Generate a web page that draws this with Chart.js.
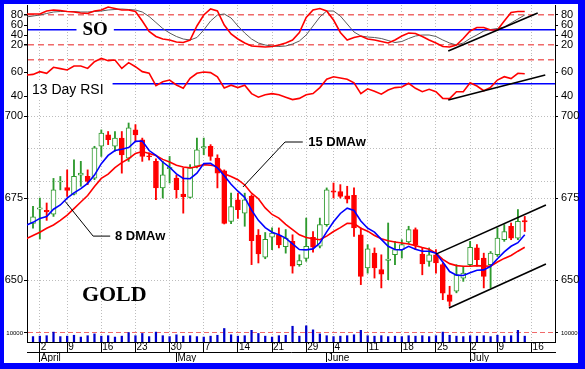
<!DOCTYPE html>
<html>
<head>
<meta charset="utf-8">
<title>Gold</title>
<script src="https://cdn.jsdelivr.net/npm/chart.js@4.4.1/dist/chart.umd.min.js"></script>
<style>
  html, body { margin: 0; padding: 0; background: #0000ff; }
  #frame { position: relative; width: 585px; height: 369px; background: #0000ff; overflow: hidden; }
  #paper { position: absolute; left: 4px; top: 4px; width: 574px; height: 359px; background: #fff; }
  #frame canvas { position: absolute; left: 0; }
</style>
</head>
<body>
<div id="frame">
  <div id="paper"></div>
  <canvas id="soChart" width="585" height="55" style="top:0px"></canvas>
  <canvas id="rsiChart" width="585" height="48" style="top:55px"></canvas>
  <canvas id="priceChart" width="585" height="219" style="top:103px"></canvas>
  <canvas id="volChart" width="585" height="41" style="top:322px"></canvas>
</div>
<script>
// trading days (index 0 = 03-29, first visible candle is 03-30)
const dates = [
  '03-29', '03-30',
  '04-02', '04-03', '04-04', '04-05',
  '04-09', '04-10', '04-11', '04-12', '04-13',
  '04-16', '04-17', '04-18', '04-19', '04-20',
  '04-23', '04-24', '04-25', '04-26', '04-27',
  '04-30', '05-01', '05-02', '05-03', '05-04',
  '05-07', '05-08', '05-09', '05-10', '05-11',
  '05-14', '05-15', '05-16', '05-17', '05-18',
  '05-21', '05-22', '05-23', '05-24', '05-25',
  '05-29', '05-30', '05-31', '06-01',
  '06-04', '06-05', '06-06', '06-07', '06-08',
  '06-11', '06-12', '06-13', '06-14', '06-15',
  '06-18', '06-19', '06-20', '06-21', '06-22',
  '06-25', '06-26', '06-27', '06-28', '06-29',
  '07-02', '07-03', '07-05', '07-06',
  '07-09', '07-10', '07-11', '07-12', '07-13'
];
const futureDates = ['07-16', '07-17', '07-18', '07-19'];

const open = [null, 667.3, 671.6, 671.3, 670.1, 679.9, 678.2, 676.2, 682.0, 681.6, 681.1, 690.8, 694.3, 690.8, 693.3, 687.2, 695.8, 692.8, 687.9, 686.2, 678.1, 684.0, 681.1, 676.2, 675.2, 684.7, 690.3, 690.8, 687.2, 683.3, 667.9, 674.5, 670.4, 675.5, 663.7, 657.0, 663.1, 663.7, 660.2, 661.8, 654.7, 656.6, 663.0, 660.3, 666.9, 677.2, 677.0, 675.7, 675.8, 663.8, 653.7, 658.2, 653.2, 656.0, 657.7, 659.3, 661.6, 665.4, 657.9, 655.7, 657.7, 654.7, 645.5, 646.6, 650.6, 654.7, 659.8, 656.7, 654.7, 657.7, 662.3, 666.4, 662.8, 668.1];
const high = [null, 672.5, 675.0, 673.5, 681.0, 681.6, 683.6, 686.7, 686.2, 683.6, 690.8, 695.8, 695.3, 695.3, 695.3, 697.9, 697.4, 693.3, 688.8, 687.0, 686.2, 687.7, 682.0, 684.2, 685.2, 693.3, 693.3, 691.3, 688.2, 683.6, 676.5, 676.5, 676.5, 676.0, 665.4, 664.5, 665.9, 665.9, 665.4, 663.8, 657.7, 668.9, 664.8, 668.9, 678.1, 679.6, 679.1, 678.6, 678.1, 665.9, 660.8, 659.8, 657.7, 667.4, 661.8, 662.3, 666.4, 665.9, 659.8, 659.8, 659.3, 655.2, 648.1, 654.7, 654.2, 661.8, 660.8, 658.2, 658.7, 665.9, 666.9, 667.4, 671.5, 669.4];
const low = [null, 665.8, 662.5, 668.2, 669.4, 677.5, 675.5, 676.0, 678.6, 679.1, 680.6, 687.7, 691.3, 689.3, 682.6, 686.2, 692.3, 686.2, 686.6, 674.5, 675.0, 679.6, 675.0, 670.4, 675.0, 684.2, 688.2, 686.5, 678.1, 667.1, 667.2, 668.8, 666.4, 654.7, 655.2, 656.5, 659.3, 659.8, 658.2, 652.1, 654.2, 655.7, 658.5, 659.8, 666.4, 675.0, 675.0, 673.5, 663.3, 648.6, 652.1, 650.6, 647.6, 650.1, 654.7, 656.7, 661.1, 659.3, 651.6, 654.2, 652.1, 644.0, 642.0, 646.1, 649.6, 654.2, 654.2, 647.6, 647.6, 657.2, 661.8, 662.3, 662.3, 664.8];
const close = [null, 669.3, 672.0, 670.8, 677.5, 680.2, 677.3, 681.6, 682.6, 680.1, 690.3, 694.8, 692.8, 693.3, 688.2, 696.4, 694.3, 687.7, 687.6, 678.1, 682.1, 684.4, 677.6, 675.4, 684.2, 689.7, 690.7, 687.7, 682.6, 667.3, 672.4, 671.5, 674.5, 662.0, 658.0, 662.4, 664.3, 660.7, 662.8, 654.2, 655.9, 660.3, 660.0, 666.9, 677.5, 676.8, 675.5, 674.7, 665.9, 651.1, 659.5, 653.7, 651.8, 656.4, 659.3, 660.8, 665.4, 660.8, 654.9, 657.7, 655.2, 646.0, 643.5, 651.6, 652.1, 660.0, 656.2, 651.1, 658.2, 662.8, 664.8, 662.8, 667.9, 667.7];

const ma8 = [666.7, 667.6, 668.8, 669.4, 671.6, 672.9, 675.0, 676.6, 677.9, 679.5, 682.0, 685.5, 688.0, 689.5, 689.9, 690.4, 692.3, 692.4, 689.5, 688.0, 686.0, 684.4, 682.4, 681.0, 680.9, 682.6, 685.5, 685.6, 684.2, 681.8, 679.2, 677.1, 675.2, 671.3, 668.2, 666.0, 664.6, 663.8, 662.8, 661.0, 659.3, 659.2, 659.5, 661.3, 664.7, 667.8, 670.3, 671.9, 671.2, 668.0, 665.8, 664.6, 662.4, 660.3, 659.3, 659.2, 660.3, 659.4, 658.8, 658.8, 658.2, 655.5, 652.6, 651.5, 651.4, 652.2, 653.0, 653.1, 654.2, 656.5, 658.6, 660.3, 661.4, 663.8];
const ma15 = [662.6, 663.6, 664.6, 665.8, 666.8, 668.2, 669.8, 671.8, 673.8, 675.8, 678.5, 681.0, 682.3, 684.3, 685.8, 687.0, 688.6, 689.2, 688.6, 688.0, 686.8, 686.0, 685.0, 684.5, 684.2, 684.6, 685.2, 685.0, 684.7, 682.4, 681.6, 680.6, 679.0, 676.5, 674.8, 672.0, 670.0, 668.9, 667.0, 665.4, 663.8, 663.0, 662.6, 662.3, 663.4, 664.8, 666.0, 667.3, 667.2, 665.8, 664.9, 663.6, 662.6, 662.0, 661.6, 661.3, 661.0, 660.5, 659.9, 659.4, 658.2, 656.3, 655.0, 654.4, 654.2, 654.2, 654.4, 654.3, 654.2, 655.5, 656.6, 657.5, 658.8, 660.0];

const soK = [82, 82, 82, 88, 90, 89, 87, 86, 84, 83, 88, 90, 96, 93, 90, 90, 87, 68, 47, 37, 32, 30, 26, 25, 30, 58, 80, 92, 88, 60, 42, 32, 24, 18, 17, 16, 17, 20, 24, 30, 45, 75, 90, 93, 88, 70, 45, 30, 35, 38, 32, 30, 27, 24, 30, 38, 44, 43, 37, 30, 24, 17, 16, 20, 33, 48, 55, 55, 50, 50, 68, 85, 87, 87];
const soD = [76, 78, 80, 83, 86, 87, 87, 87, 86, 86, 87, 88, 90, 91, 92, 91, 90, 86, 77, 65, 53, 44, 37, 32, 30, 35, 50, 68, 80, 82, 74, 58, 44, 32, 24, 20, 18, 17, 18, 22, 28, 40, 58, 76, 88, 88, 78, 62, 46, 38, 36, 35, 33, 29, 25, 27, 33, 38, 40, 40, 37, 30, 24, 20, 24, 33, 40, 48, 51, 53, 56, 64, 72, 80];
const rsi13 = [57.5, 58, 60.3, 58.9, 63.9, 62.8, 61.7, 65, 65, 63, 68.6, 71.4, 69.4, 70, 63, 67.8, 64.4, 60.3, 59, 48.6, 51.9, 53.3, 49.2, 46.4, 54.7, 58.9, 60, 59.5, 56, 46.7, 49, 47, 49, 42, 39, 41, 42, 41, 39, 37, 38, 41, 42, 47, 54, 56, 55, 54, 51, 42, 46, 44, 41.5, 45, 47, 47.5, 50.6, 46.4, 43.6, 45.6, 43.6, 38, 37.8, 43.6, 43.6, 51.1, 48.3, 44.4, 47.2, 53.3, 56.1, 54.5, 58.9, 58.6];
const volume = [null, 6000, 6500, 7000, 11000, 6000, 6500, 7500, 5500, 7000, 9000, 6500, 7000, 5500, 6500, 10500, 7000, 9500, 6000, 11000, 7000, 6000, 8000, 6500, 7000, 6000, 5500, 6500, 7500, 15000, 8000, 6500, 7000, 13000, 9500, 6500, 5500, 7000, 7500, 17500, 6500, 18000, 13500, 9000, 7000, 6000, 6500, 7000, 8000, 13000, 7000, 6500, 7000, 6000, 6500, 6000, 7000, 6500, 7000, 6000, 7000, 11000, 7500, 6500, 6000, 7000, 6500, 7000, 6000, 7500, 6500, 7000, 13000, 6500];

const dayTicks = [['04-02', '2'], ['04-09', '9'], ['04-16', '16'], ['04-23', '23'], ['04-30', '30'], ['05-07', '7'], ['05-14', '14'], ['05-21', '21'], ['05-29', '29'], ['06-04', '4'], ['06-11', '11'], ['06-18', '18'], ['06-25', '25'], ['07-02', '2'], ['07-09', '9'], ['07-16', '16']];
const monthTicks = [['04-02', 'April'], ['05-01', 'May'], ['06-01', 'June'], ['07-02', 'July']];

const soTickVals = [20, 40, 50, 60, 80];
const soLabels = [20, 40, 60, 80];
const rsiTickVals = [40, 50, 60, 70];
const rsiLabels = [40, 60];
const priceTickVals = [650, 675, 680, 690, 700];
const priceLabels = [650, 675, 700];
const volLabels = [10000];

// hand-drawn lines, [day position, value]
const soTrend = [[61.8, 8], [74.9, 84]];
const rsiTrend = [[61.8, 36.7], [76.0, 57.5]];
const channelTop = [[60.0, 657.9], [76.1, 672.9]];
const channelBottom = [[61.9, 641.5], [76.1, 654.9]];
const leader15 = [[31.75, 678.4], [37.9, 692.1], [40.5, 692.1]];
const leader8 = [[5.7, 674.0], [9.8, 663.4], [12.3, 663.4]];

const FONT = '"Liberation Sans", Arial, sans-serif';
const GREEN = '#2e9a2e';
const RED = '#ff0000';
const BLUE = '#0000ff';
const PINK = '#f06a6a';
const GRID = '#bdbdbd';

const allDates = dates.concat(futureDates);
const dayPos = d => allDates.indexOf(d);
const xMin = 0.12, xMax = 77.43;

function zeroPad(s) {
  s.paddingTop = 0; s.paddingBottom = 0; s.paddingLeft = 0; s.paddingRight = 0;
}

function gridX() {
  return {
    type: 'linear', min: xMin, max: xMax, offset: false,
    afterBuildTicks: s => { s.ticks = dayTicks.map(t => ({value: dayPos(t[0])})); },
    afterFit: s => { s.height = 0; zeroPad(s); },
    ticks: {display: false, autoSkip: false},
    grid: {color: GRID, drawTicks: false, offset: false},
    border: {display: false, dash: [1, 2]}
  };
}

function valueAxis(side, min, max, tickVals, labels, lineStyle, fontSize) {
  const left = side === 'left';
  const st = c => (c.tick && lineStyle) ? lineStyle(c.tick.value) : null;
  return {
    type: 'linear', position: side, min, max,
    afterBuildTicks: s => { s.ticks = tickVals.map(v => ({value: v})); },
    afterFit: s => { s.width = left ? 27 : 30; zeroPad(s); },
    ticks: {
      autoSkip: false, padding: left ? 1 : 3, color: '#000',
      font: {family: FONT, size: fontSize || 11},
      callback: v => labels.includes(v) ? String(v) : ''
    },
    grid: {
      drawOnChartArea: left,
      color: c => { const s = st(c); return s ? s.color : 'rgba(0,0,0,0)'; },
      lineWidth: c => { const s = st(c); return s ? s.width : 1; },
      tickLength: 3,
      tickColor: c => c.tick && labels.includes(c.tick.value) ? '#000' : 'rgba(0,0,0,0)'
    },
    border: {color: '#000', dash: c => { const s = st(c); return s ? s.dash : []; }}
  };
}

function base(padding) {
  return {
    responsive: false, animation: false, devicePixelRatio: 1, events: [],
    layout: {padding},
    plugins: {legend: {display: false}, tooltip: {enabled: false}}
  };
}

const pts = arr => arr.map((v, i) => ({x: i, y: v}));
const seg = arr => arr.map(p => ({x: p[0], y: p[1]}));
function lineDs(data, color, width, order) {
  return {type: 'line', data, borderColor: color, borderWidth: width, pointRadius: 0,
    tension: 0, fill: false, order: order};
}

// text drawn on top of the datasets, placed in data coordinates
function textLayer(items) {
  return {
    id: 'textLayer',
    afterDatasetsDraw(chart) {
      const {ctx, chartArea, scales: {x, y}} = chart;
      ctx.save();
      items.forEach(t => {
        ctx.font = t.font;
        const px = x.getPixelForValue(t.at[0]);
        const py = y.getPixelForValue(t.at[1]);
        const w = ctx.measureText(t.text).width;
        const left = t.align === 'center' ? px - w / 2 : px;
        if (t.box) {
          const bx = t.box === 'axis' ? chartArea.left + 1 : left - 6;
          ctx.fillStyle = '#fff';
          ctx.fillRect(bx, py - 9, left + w + (t.box === 'axis' ? 9 : 6) - bx, 18);
        }
        ctx.fillStyle = '#000';
        ctx.textAlign = 'left';
        ctx.textBaseline = 'middle';
        ctx.fillText(t.text, left, py);
      });
      ctx.restore();
    }
  };
}

// ---- stochastic oscillator ----
const soStyle = v => v === 50 ? {color: BLUE, width: 1.5, dash: []}
  : (v === 20 || v === 80) ? {color: PINK, width: 1.5, dash: [6, 4]} : null;
new Chart(document.getElementById('soChart'), {
  type: 'line',
  data: {datasets: [
    lineDs(pts(soD), '#5a5a5a', 1, 2),
    lineDs(pts(soK), RED, 1.6, 1),
    lineDs(seg(soTrend), '#000', 1.6, 0)
  ]},
  options: Object.assign(base({top: 5}), {scales: {
    x: gridX(),
    y: valueAxis('left', 0, 100, soTickVals, soLabels, soStyle),
    yr: valueAxis('right', 0, 100, soTickVals, soLabels, null)
  }}),
  plugins: [textLayer([{text: 'SO', at: [10.1, 50], align: 'center', box: 'around',
    font: 'bold 19px "Liberation Serif", serif'}])]
});

// ---- RSI ----
const rsiStyle = v => v === 50 ? {color: BLUE, width: 1.5, dash: []}
  : v === 70 ? {color: PINK, width: 1.5, dash: [6, 4]} : null;
new Chart(document.getElementById('rsiChart'), {
  type: 'line',
  data: {datasets: [
    lineDs(pts(rsi13), RED, 1.6, 1),
    lineDs(seg(rsiTrend), '#000', 1.6, 0)
  ]},
  options: Object.assign(base(0), {scales: {
    x: gridX(),
    y: valueAxis('left', 34.17, 74.17, rsiTickVals, rsiLabels, rsiStyle),
    yr: valueAxis('right', 34.17, 74.17, rsiTickVals, rsiLabels, null)
  }}),
  plugins: [textLayer([{text: '13 Day RSI', at: [0.85, 45], align: 'left', box: 'axis',
    font: '14px "Liberation Sans", Arial, sans-serif'}])]
});

// ---- price candles ----
const candleDays = dates.map((d, i) => i).filter(i => open[i] !== null);
const up = i => close[i] >= open[i];
const priceStyle = () => ({color: GRID, width: 1, dash: [1, 2]});
new Chart(document.getElementById('priceChart'), {
  type: 'line',
  data: {datasets: [
    {type: 'bar', order: 5, grouped: false, barThickness: 1.2, borderWidth: 0,
      data: candleDays.map(i => ({x: i, y: [low[i], high[i]]})),
      backgroundColor: candleDays.map(i => up(i) ? GREEN : RED)},
    {type: 'bar', order: 4, grouped: false, barThickness: 5, borderWidth: 1, borderSkipped: false,
      data: candleDays.map(i => ({x: i, y: [open[i], close[i]]})),
      backgroundColor: candleDays.map(i => up(i) ? '#ffffff' : RED),
      borderColor: candleDays.map(i => up(i) ? GREEN : RED)},
    lineDs(pts(ma15), RED, 1.6, 3),
    lineDs(pts(ma8), BLUE, 1.6, 2),
    lineDs(seg(channelTop), '#000', 1.6, 1),
    lineDs(seg(channelBottom), '#000', 1.6, 1),
    lineDs(seg(leader15), '#000', 1, 1),
    lineDs(seg(leader8), '#000', 1, 1)
  ]},
  options: Object.assign(base(0), {scales: {
    x: gridX(),
    y: valueAxis('left', 637.2, 704.0, priceTickVals, priceLabels, priceStyle),
    yr: valueAxis('right', 637.2, 704.0, priceTickVals, priceLabels, null)
  }}),
  plugins: [textLayer([
    {text: 'GOLD', at: [12.9, 645.4], align: 'center', font: 'bold 22px "Liberation Serif", serif'},
    {text: '15 DMAw', at: [41.3, 692.1], align: 'left', font: 'bold 13px "Liberation Sans", Arial, sans-serif'},
    {text: '8 DMAw', at: [13.0, 663.3], align: 'left', font: 'bold 13px "Liberation Sans", Arial, sans-serif'}
  ])]
});

// ---- volume + date axes ----
const volStyle = v => v === 10000 ? {color: PINK, width: 1, dash: [5, 3]} : null;
new Chart(document.getElementById('volChart'), {
  type: 'bar',
  data: {datasets: [{
    grouped: false, barThickness: 1.6, backgroundColor: '#0000cc', borderWidth: 0,
    data: volume.map((v, i) => ({x: i, y: v})).filter(p => p.y !== null)
  }]},
  options: Object.assign(base({bottom: 1}), {scales: {
    x: {
      type: 'linear', min: xMin, max: xMax, position: 'bottom', weight: 0, offset: false,
      afterBuildTicks: s => { s.ticks = dayTicks.map(t => ({value: dayPos(t[0])})); },
      afterFit: s => { s.height = 10; zeroPad(s); },
      ticks: {autoSkip: false, minRotation: 0, maxRotation: 0, align: 'start', labelOffset: 1,
        padding: -11, color: '#000', font: {family: FONT, size: 10},
        callback: (v, k) => dayTicks[k][1]},
      grid: {color: GRID, tickColor: '#000', tickLength: 10, offset: false},
      border: {color: '#000', dash: c => c.tick ? [1, 2] : []}
    },
    xm: {
      type: 'linear', min: xMin, max: xMax, position: 'bottom', weight: 1, offset: false,
      afterBuildTicks: s => { s.ticks = monthTicks.map(t => ({value: dayPos(t[0])})); },
      afterFit: s => { s.height = 10; zeroPad(s); },
      ticks: {autoSkip: false, minRotation: 0, maxRotation: 0, align: 'start', labelOffset: 1,
        padding: -10, color: '#000', font: {family: FONT, size: 10},
        callback: (v, k) => monthTicks[k][1]},
      grid: {drawOnChartArea: false, tickColor: '#000', tickLength: 10, offset: false},
      border: {color: '#000'}
    },
    y: valueAxis('left', 0, 22222, [10000], volLabels, volStyle, 6),
    yr: valueAxis('right', 0, 22222, [10000], volLabels, null, 6)
  }})
});
</script>
</body>
</html>
